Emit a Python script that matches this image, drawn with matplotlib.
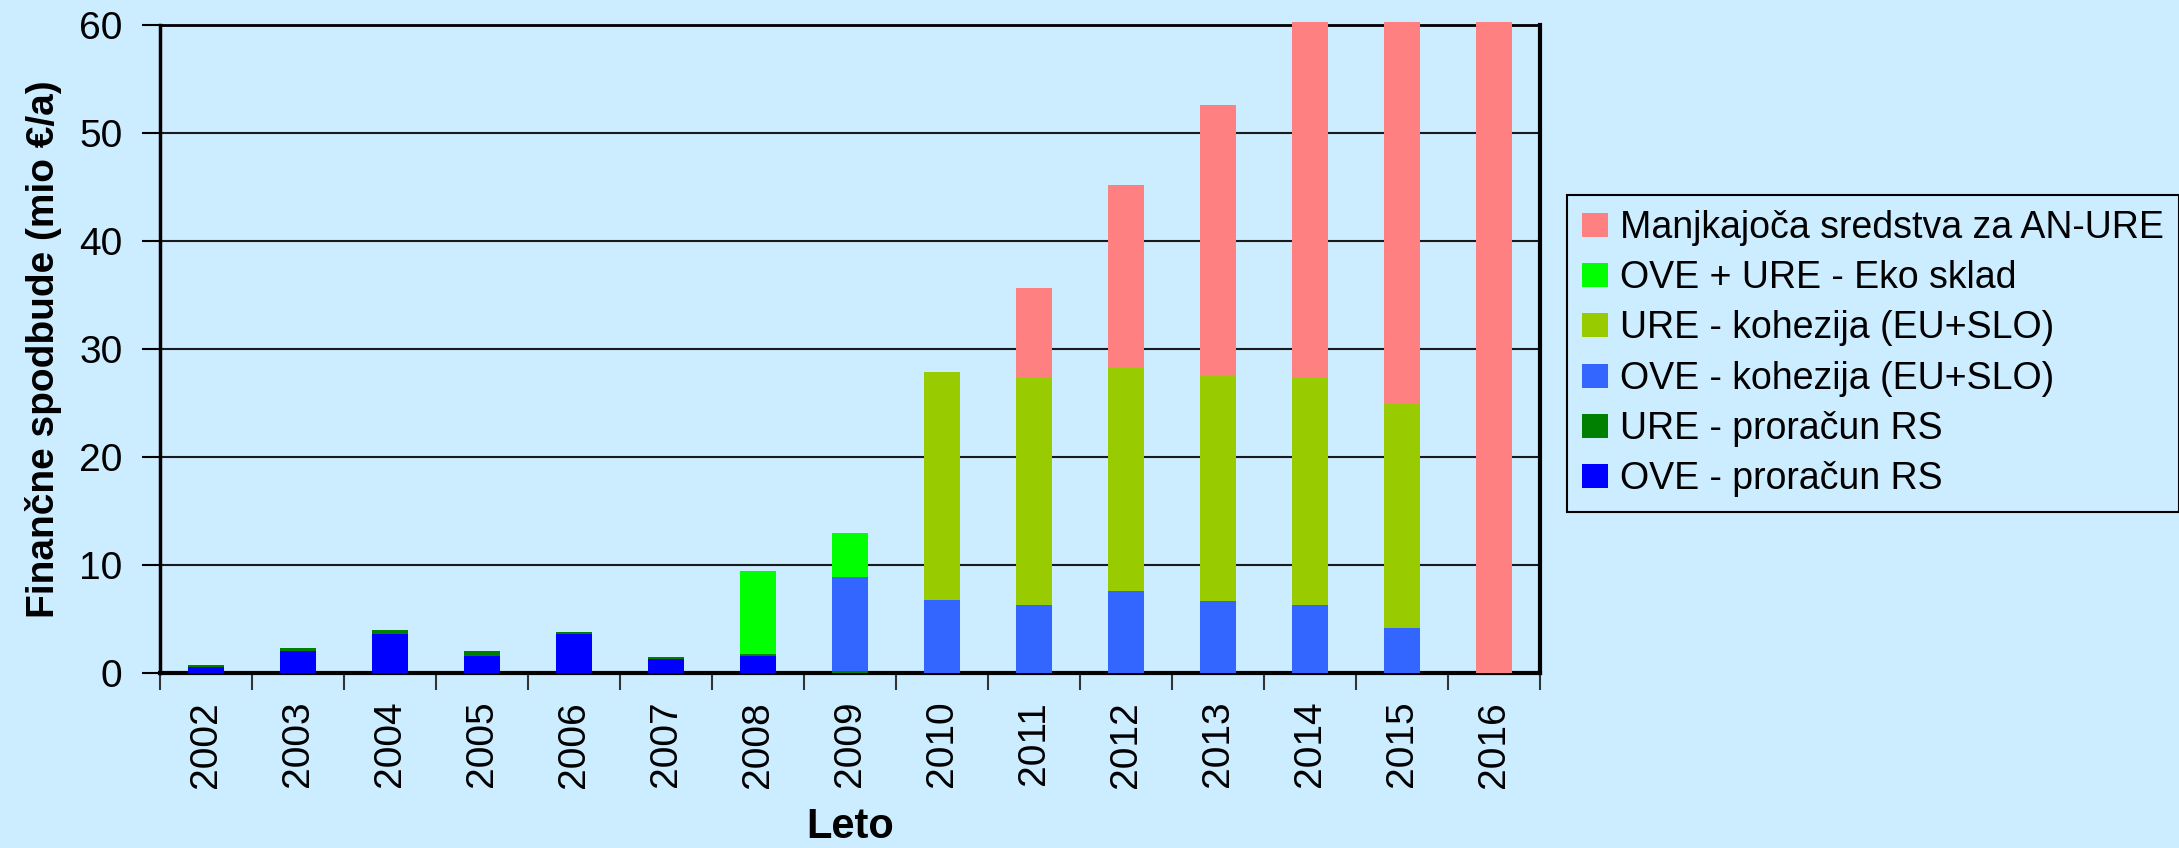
import matplotlib
matplotlib.use("Agg")
import matplotlib.pyplot as plt
import numpy as np

years = ["2002", "2003", "2004", "2005", "2006", "2007", "2008", "2009",
         "2010", "2011", "2012", "2013", "2014", "2015", "2016"]
ove_proracun = [0.55, 2.0, 3.6, 1.55, 3.6, 1.3, 1.57, 0, 0, 0, 0, 0, 0, 0, 0]
ure_proracun = [0.2, 0.33, 0.37, 0.47, 0.18, 0.18, 0.19, 0.15, 0, 0, 0, 0, 0, 0, 0]
ove_kohezija = [0, 0, 0, 0, 0, 0, 0, 8.74, 6.8, 6.27, 7.57, 6.67, 6.3, 4.17, 0]
ure_kohezija = [0, 0, 0, 0, 0, 0, 0, 0, 21.1, 21.0, 20.8, 20.85, 21.0, 20.8, 0]
eko_sklad = [0, 0, 0, 0, 0, 0, 7.7, 4.07, 0, 0, 0, 0, 0, 0, 0]
manjkajoca = [0, 0, 0, 0, 0, 0, 0, 0, 0, 8.4, 16.8, 25.1, 33.0, 35.3, 60.3]

series = [
    ("OVE - proračun RS", ove_proracun, "#0000FF"),
    ("URE - proračun RS", ure_proracun, "#008000"),
    ("OVE - kohezija (EU+SLO)", ove_kohezija, "#3366FF"),
    ("URE - kohezija (EU+SLO)", ure_kohezija, "#99CC00"),
    ("OVE + URE - Eko sklad", eko_sklad, "#00FF00"),
    ("Manjkajoča sredstva za AN-URE", manjkajoca, "#FF8080"),
]

plt.rcParams['font.family'] = ['Liberation Sans', 'DejaVu Sans']
bg = "#CCECFF"
fig = plt.figure(figsize=(21.79, 8.48), dpi=100, facecolor=bg)
ax = fig.add_axes([160/2179, 1-673/848, 1380/2179, 648/848])
ax.set_facecolor(bg)

x = np.arange(len(years))
bottom = np.zeros(len(years))
handles = []
for name, vals, col in series:
    v = np.array(vals, dtype=float)
    b = ax.bar(x, v, width=0.4, bottom=bottom, color=col, label=name,
               clip_on=False, zorder=3, linewidth=0)
    handles.append(b)
    bottom += v

ax.set_xlim(-0.5, len(years)-0.5)
ax.set_ylim(0, 60)
ax.set_yticks(np.arange(0, 61, 10))
ax.yaxis.grid(True, color="#1a1a1a", linewidth=1.5, zorder=1)
ax.set_axisbelow(True)

ax.set_xticks(x)
ax.set_xticklabels(years, rotation=90, fontsize=28)
ax.set_xticks(np.arange(-0.5, len(years), 1), minor=True)
ax.tick_params(axis='x', which='major', length=0, pad=20)
ax.tick_params(axis='x', which='minor', length=12, width=1.5, direction='out', color='#333333')
ax.tick_params(axis='y', labelsize=28, length=13, width=1.5, direction='out', pad=14)

for s in ax.spines.values():
    s.set_color('black')
ax.spines['bottom'].set_linewidth(3)
ax.spines['left'].set_linewidth(2.5)
ax.spines['right'].set_linewidth(3)
ax.spines['top'].set_linewidth(2)

ax.set_ylabel("Finančne spodbude (mio €/a)", fontsize=28, fontweight='bold', labelpad=12)
ax.set_xlabel("Leto", fontsize=30, fontweight='bold', labelpad=14)

leg = fig.legend(handles[::-1], [s[0] for s in series][::-1],
                 loc='upper left', bbox_to_anchor=(1567/2179, 1-195/848),
                 fontsize=27, frameon=True, fancybox=False, edgecolor='black',
                 facecolor=bg, framealpha=1, handlelength=0.69, handleheight=0.61,
                 handletextpad=0.32, labelspacing=0.38, borderpad=0.4, borderaxespad=0)
leg.get_frame().set_linewidth(1.5)

fig.savefig("out.png", dpi=100, facecolor=bg)
